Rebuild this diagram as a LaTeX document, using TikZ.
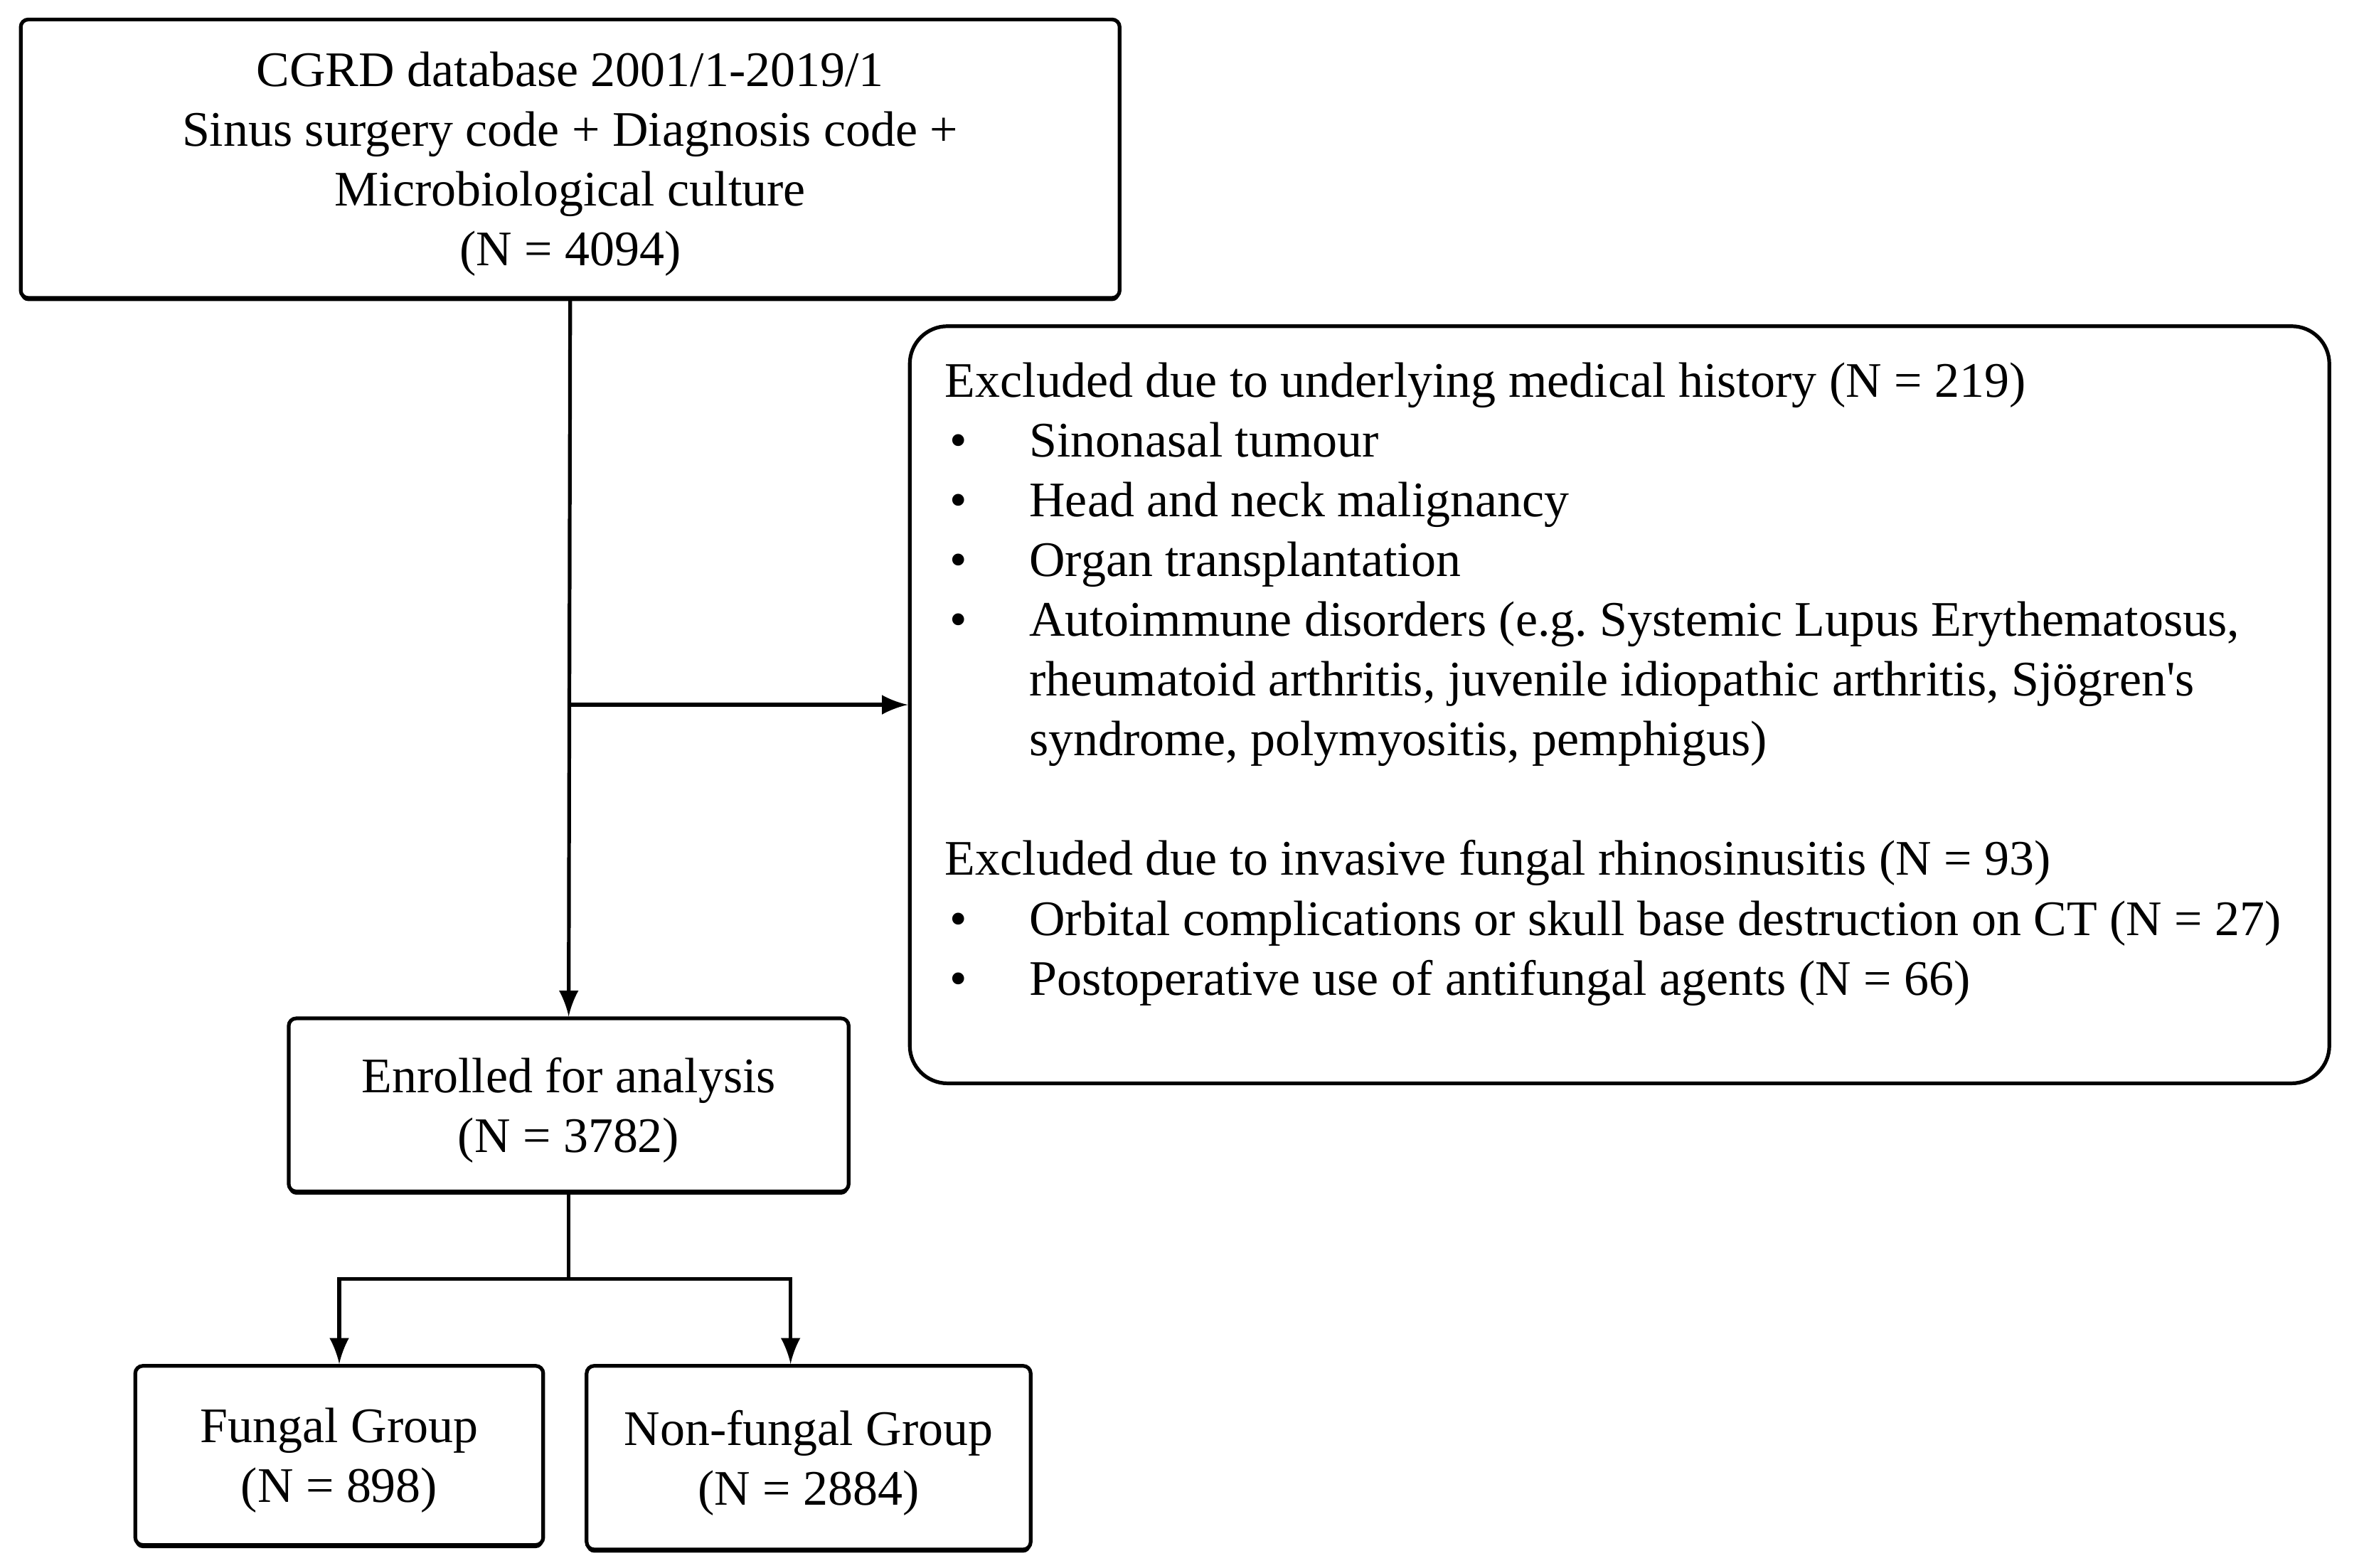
\documentclass[tikz,border=0pt]{standalone}
\usepackage{fontspec}
\setmainfont{Liberation Serif}
\usetikzlibrary{shadows}
\frenchspacing
\begin{document}
\begin{tikzpicture}[>=latex,x=0.01cm,y=-0.01cm,line width=0.7pt,
        flowbox/.style={draw,rounded corners=0.05cm,fill=white,align=center,inner sep=0pt,text depth=0pt,
            general shadow={fill=black,shadow xshift=0pt,shadow yshift=-0.6pt},
            font=\fontsize{9.4}{11.3}\selectfont}]
                \useasboundingbox (0,0) rectangle (1568,1042);
                \node[flowbox,minimum width=7.30cm,minimum height=1.85cm] (cgrd) at (379,105.5)
                    {CGRD database 2001/1-2019/1\\Sinus surgery code + Diagnosis code +\\Microbiological culture\\(N = 4094)};
                \node[draw,rounded corners=0.25cm,minimum width=9.43cm,minimum height=5.03cm] (excl) at (1076.5,468.5) {};
                \node[anchor=base west,inner sep=0pt,font=\fontsize{9.4}{11.3}\selectfont] (excltext) at (627,264)
                    {\begin{tabular}[t]{@{\hspace{0.03cm}}p{0.53cm}@{}l@{}}
                    \multicolumn{2}{@{}l@{}}{Excluded due to underlying medical history (N = 219)}\\
                    \textbullet & Sinonasal tumour\\
                    \textbullet & Head and neck malignancy\\
                    \textbullet & Organ transplantation\\
                    \textbullet & Autoimmune disorders (e.g.\ Systemic Lupus Erythematosus,\\
                    & rheumatoid arthritis, juvenile idiopathic arthritis, Sjögren\textquotesingle s\\
                    & syndrome, polymyositis, pemphigus)\\
                    \\
                    \multicolumn{2}{@{}l@{}}{Excluded due to invasive fungal rhinosinusitis (N = 93)}\\
                    \textbullet & Orbital complications or skull base destruction on CT (N = 27)\\
                    \textbullet & Postoperative use of antifungal agents (N = 66)
                    \end{tabular}};
                \node[flowbox,minimum width=3.72cm,minimum height=1.15cm] (enrolled) at (378,734.5)
                    {Enrolled for analysis\\(N = 3782)};
                \node[flowbox,minimum width=2.71cm,minimum height=1.19cm] (fungal) at (225.5,967.5)
                    {Fungal Group\\(N = 898)};
                \node[flowbox,minimum width=2.95cm,minimum height=1.22cm] (nonfungal) at (537.5,969)
                    {Non-fungal Group\\(N = 2884)};
                \coordinate (split) at (378,850);
                \draw[->] (cgrd.south) -- (enrolled.north);
                \draw[->] (cgrd.south |- excl.west) -- (excl.west);
                \draw (enrolled.south) -- (split);
                \draw[->] (split) -| (fungal.north);
                \draw[->] (split) -| ([xshift=-0.12cm]nonfungal.north);
            \end{tikzpicture}
\end{document}
